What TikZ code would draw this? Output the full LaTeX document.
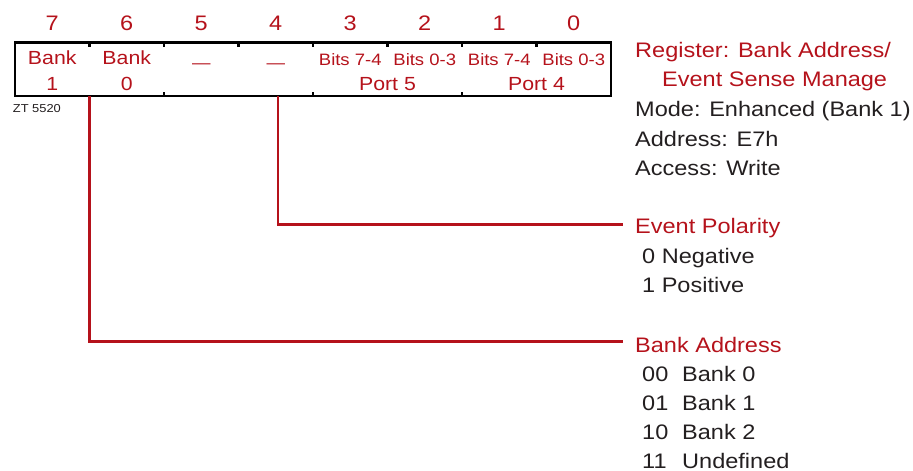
\documentclass[tikz,border=0pt]{standalone}
\usepackage{fontspec}
\setmainfont{Liberation Sans}[FakeStretch=1.12]
\usepackage{xcolor}
\usepackage{tikz}
\usetikzlibrary{positioning}

\definecolor{regred}{RGB}{181,18,27}
\definecolor{regtext}{RGB}{35,31,32}

\begin{document}
\begin{tikzpicture}[x=1pt, y=-1pt,
    bitnum/.style={regred, font=\fontsize{21}{21}\selectfont, anchor=base, inner sep=0},
    cell/.style={regred, font=\fontsize{19}{19}\selectfont, anchor=base, inner sep=0},
    half/.style={regred, font=\fontsize{16.5}{16.5}\selectfont, anchor=base, inner sep=0},
    head/.style={regred, font=\fontsize{21}{21}\selectfont, anchor=base west, inner sep=0},
    info/.style={regtext, font=\fontsize{21}{21}\selectfont, anchor=base west, inner sep=0},
    field/.style={regred, line width=2.4pt}]
    \useasboundingbox (0,0) rectangle (913,471);

    % register box, 8 cells of 74.5
    \draw[line width=2.5pt] (15,42.5) rectangle (611,96);
    \foreach \x in {89.5,164,238.5,313,387.5,462,536.5} {
        \draw[line width=2.5pt] (\x,42.5) -- ++(0,4.5);
    }
    \foreach \x in {164,313,462} {
        \draw[line width=2.5pt] (\x,96) -- ++(0,-4.5);
    }

    % bit numbers
    \foreach \i in {0,...,7} {
        \node[bitnum] (bit\i) at (611-74.5*\i-37.25,30) {\i};
    }

    % bit names
    \foreach \x/\t/\b/\n in {52.25/Bank/1/b7, 126.75/Bank/0/b6} {
        \node[cell] (\n top) at (\x,64) {\t};
        \node[cell] (\n bot) at (\x,90.5) {\b};
    }
    \node[half] (b5) at (201.25,68) {—};
    \node[half] (b4) at (275.75,68) {—};
    \foreach \x/\t/\n in {350.25/Bits 7-4/b3, 424.75/Bits 0-3/b2, 499.25/Bits 7-4/b1, 573.75/Bits 0-3/b0} {
        \node[half] (\n) at (\x,65) {\t};
    }
    \node[cell] (port5) at (387.5,90.5) {Port 5};
    \node[cell] (port4) at (536.5,90.5) {Port 4};
    \node[regtext, font=\fontsize{11.5}{11.5}\selectfont, anchor=base west, inner sep=0] (ztag) at (12.7,112) {ZT 5520};

    % register description
    \node[head] (regname) at (635,57.7) {Register: Bank Address/};
    \node[head] (regname2) at (662,86.7) {Event Sense Manage};
    \node[info] (mode) at (635,116.7) {Mode: Enhanced (Bank 1)};
    \node[info] (addr) at (635,146) {Address: E7h};
    \node[info] (access) at (635,175) {Access: Write};

    % field descriptions
    \node[head] (evtpol) at (635,233) {Event Polarity};
    \node[info] (neg) at (642,263) {0 Negative};
    \node[info] (pos) at (642,292) {1 Positive};

    \node[head] (bankaddr) at (635,352) {Bank Address};
    \foreach \c/\t [count=\k] in {00/Bank 0, 01/Bank 1, 10/Bank 2, 11/Undefined} {
        \node[info] (code\k) at (642,352+29.1*\k) {\c};
        \node[info] (name\k) at (682,352+29.1*\k) {\t};
    }

    % connectors
    \coordinate (tap76) at (89.5,96);
    \coordinate (tap4) at (278,96);
    \draw[field] (tap4) |- ([xshift=-12pt,yshift=3pt]evtpol.west);
    \draw[field] (tap76) |- ([xshift=-12pt,yshift=3pt]bankaddr.west);
\end{tikzpicture}
\end{document}
